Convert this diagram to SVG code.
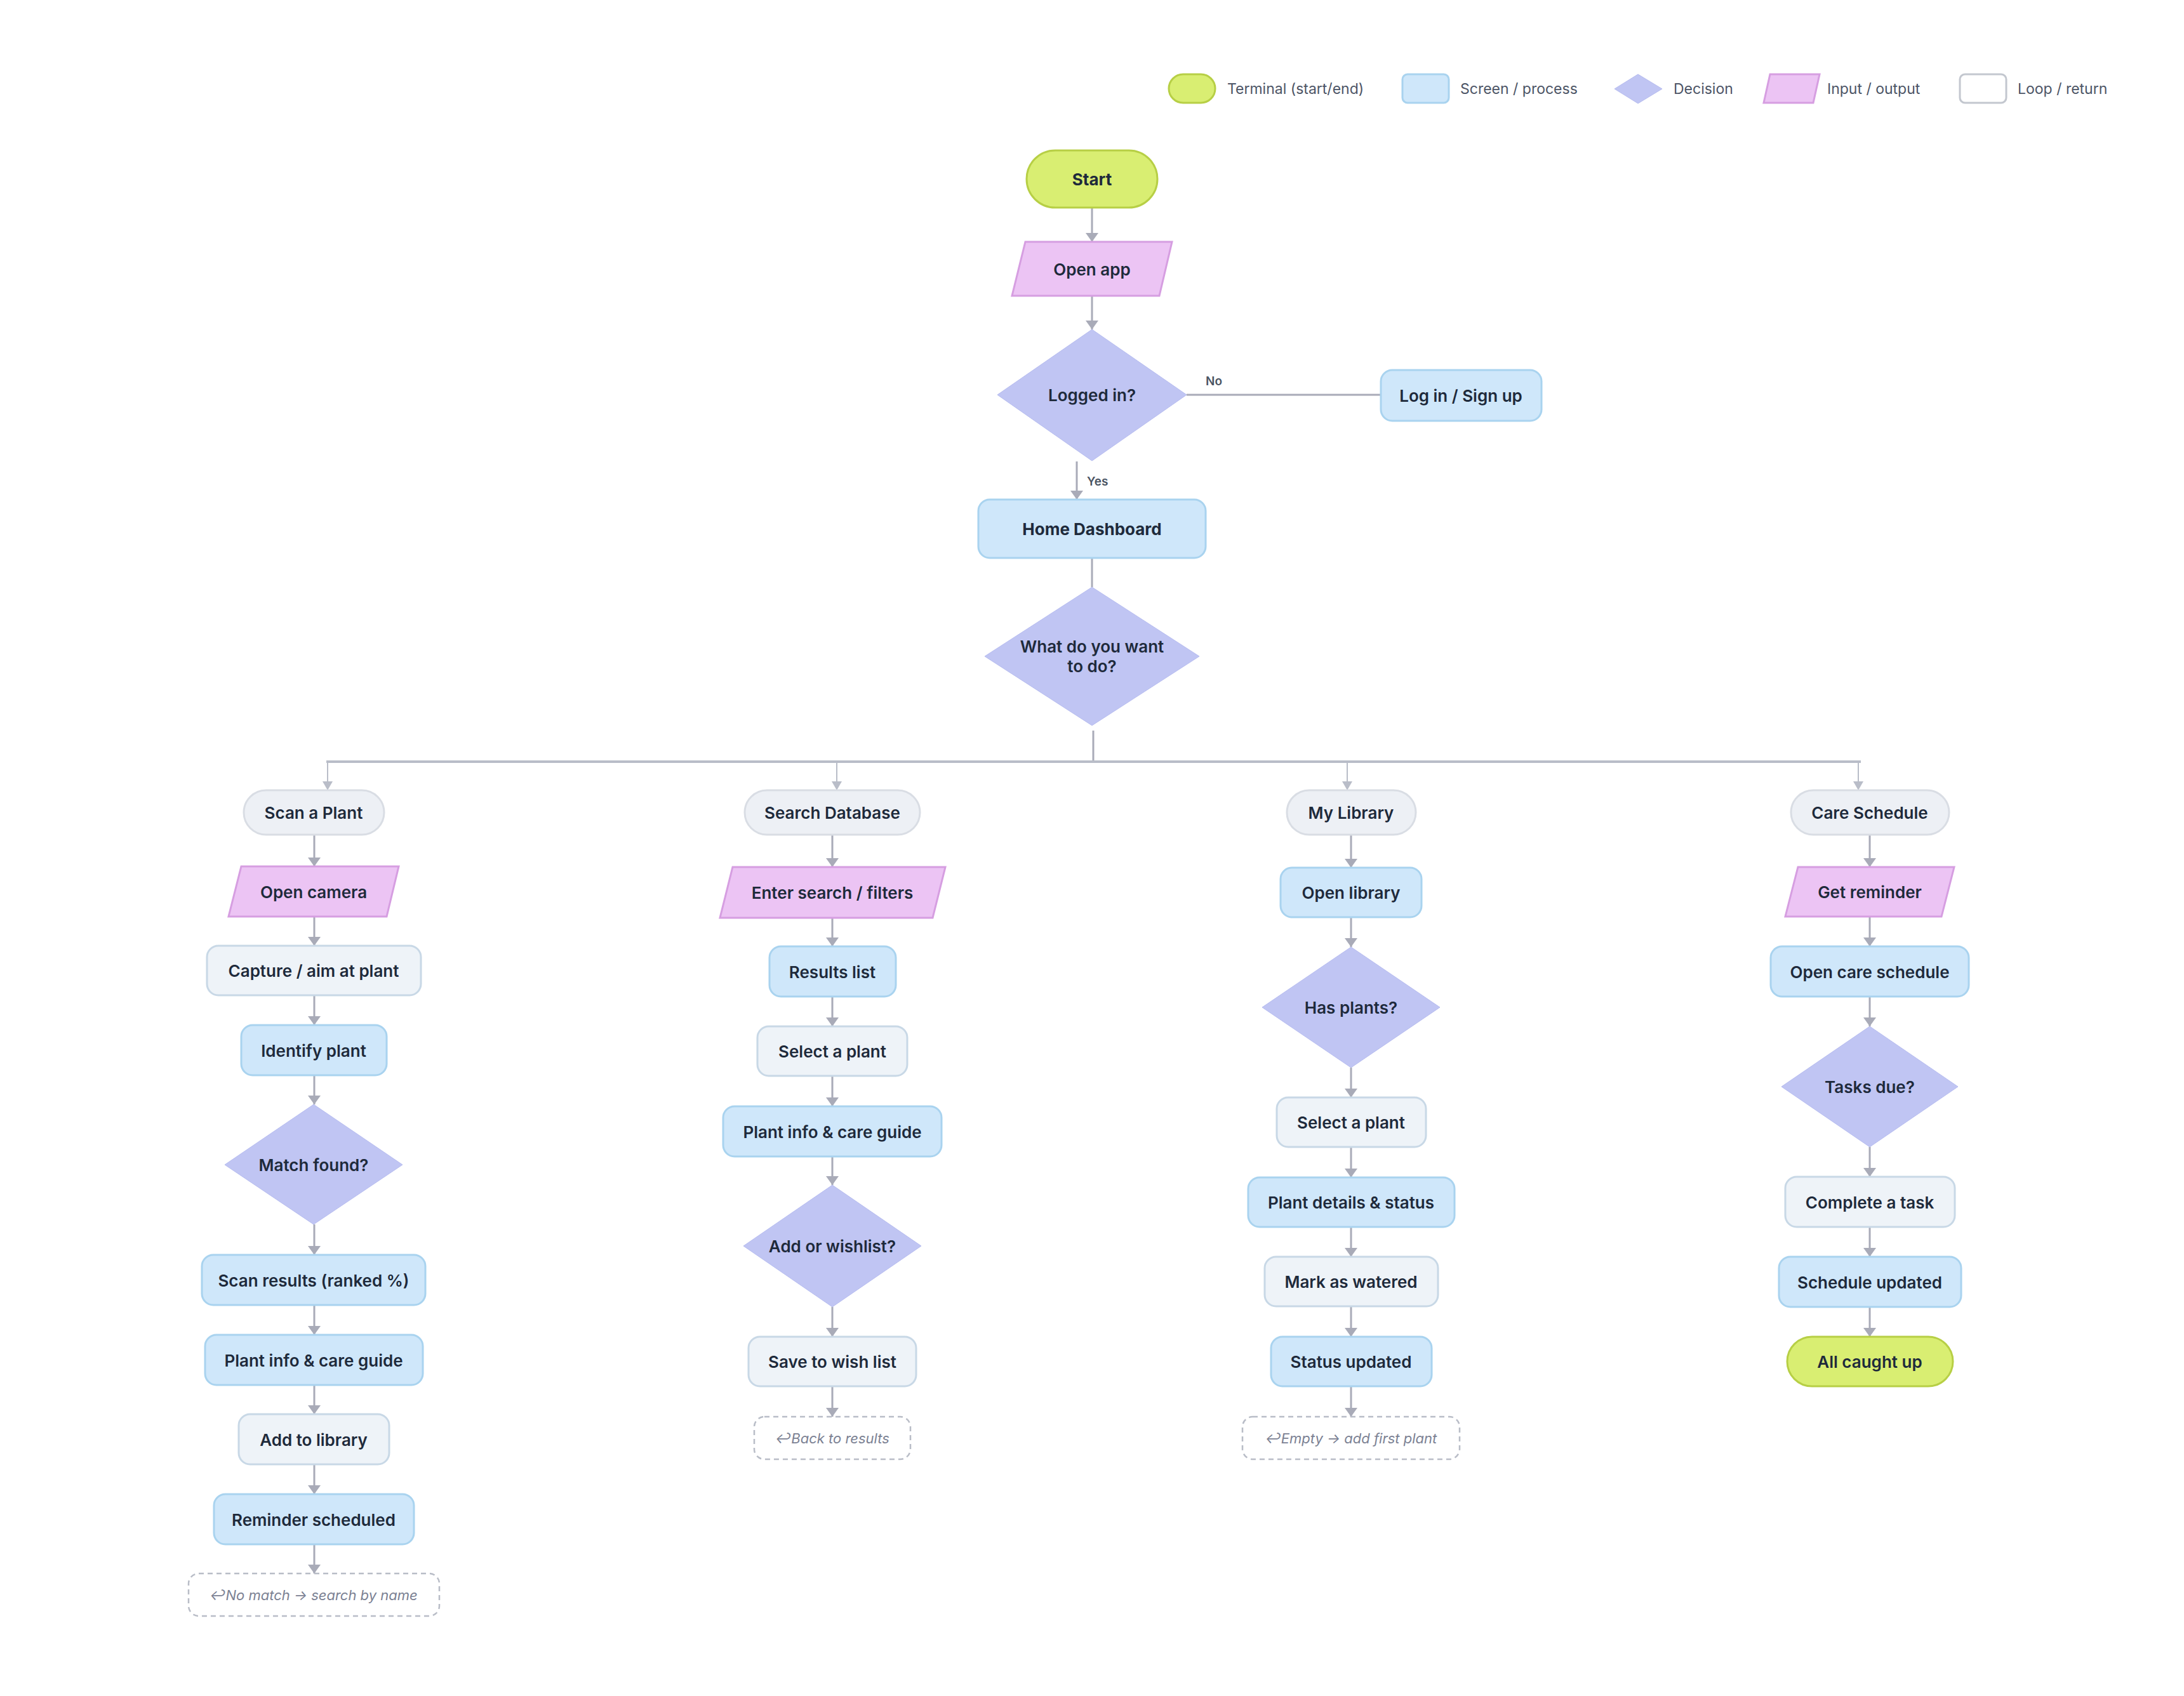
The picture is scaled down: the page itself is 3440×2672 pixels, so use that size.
<svg xmlns="http://www.w3.org/2000/svg" width="3440" height="2672" viewBox="0 0 3440 2672">
<style>
.term{fill:#d9ee72;stroke:#b7cf45;stroke-width:3}
.screen{fill:#cfe7fa;stroke:#a9d3ef;stroke-width:3}
.sec{fill:#eef3f8;stroke:#c8d8e6;stroke-width:3}
.cat{fill:#edf0f5;stroke:#d9dde4;stroke-width:3}
.dec{fill:#c0c5f3;stroke:#b6bcef;stroke-width:1}
.io{fill:#ecc4f4;stroke:#d69ee1;stroke-width:3}
.loop{fill:#ffffff;stroke:#b9bdc7;stroke-width:2.5;stroke-dasharray:8 6}
.lg{fill:#ffffff;stroke:#c3c7cf;stroke-width:3}
.t{font-family:Inter,"Liberation Sans",sans-serif;font-weight:600;fill:#1e2a3b;text-anchor:middle;dominant-baseline:central;font-size:26px}
.tb{font-weight:700}
.note{font-family:Inter,"Liberation Sans",sans-serif;font-style:italic;fill:#7b8193;text-anchor:middle;dominant-baseline:central;font-size:22px}
.lbl{font-family:Inter,"Liberation Sans",sans-serif;font-weight:600;fill:#4b5563;font-size:19px;dominant-baseline:central}
.legt{font-family:Inter,"Liberation Sans",sans-serif;fill:#4d5566;font-size:23px;dominant-baseline:central}
.c{stroke:#a9abb8;stroke-width:3;fill:none}
.ca{stroke:#a9abb8;stroke-width:3;fill:none;marker-end:url(#ah)}
.bus{stroke:#b9bdc8;stroke-width:4;fill:none}
.drop{stroke:#b9bdc8;stroke-width:2;fill:none;marker-end:url(#ah2)}
</style>
<defs>
<marker id="ah" viewBox="0 0 14 20" refX="14" refY="10" markerWidth="14" markerHeight="20" markerUnits="userSpaceOnUse" orient="auto"><path d="M0,0 L14,10 L0,20 z" fill="#a9abb8"/></marker>
<marker id="ah2" viewBox="0 0 14 16" refX="14" refY="8" markerWidth="14" markerHeight="16" markerUnits="userSpaceOnUse" orient="auto"><path d="M0,0 L14,8 L0,16 z" fill="#b9bdc8"/></marker>
</defs>
<rect width="3440" height="2672" fill="#ffffff"/>

<g id="legend">
<rect class="term" x="1841" y="117" width="73" height="45" rx="22.5"/>
<text class="legt" x="1933" y="140">Terminal (start/end)</text>
<rect class="screen" x="2209" y="117" width="73" height="45" rx="8"/>
<text class="legt" x="2300" y="140">Screen / process</text>
<polygon class="dec" points="2580,117 2618,140 2580,163 2543,140"/>
<text class="legt" x="2636" y="140">Decision</text>
<polygon class="io" points="2788,117 2866,117 2856,162 2778,162"/>
<text class="legt" x="2878" y="140">Input / output</text>
<rect class="lg" x="3087" y="117" width="73" height="45" rx="8"/>
<text class="legt" x="3178" y="140">Loop / return</text>
</g>

<g id="connectors">
<line class="ca" x1="1720" y1="327" x2="1720" y2="381"/>
<line class="ca" x1="1720" y1="466" x2="1720" y2="519"/>
<line class="c" x1="1869" y1="622" x2="2175" y2="622"/>
<text class="lbl" x="1899" y="600">No</text>
<line class="ca" x1="1696" y1="727" x2="1696" y2="787"/>
<text class="lbl" x="1712" y="758">Yes</text>
<line class="c" x1="1720" y1="879" x2="1720" y2="925"/>
<line class="c" x1="1722" y1="1151" x2="1722" y2="1200"/>
<line class="bus" x1="514" y1="1200" x2="2931" y2="1200"/>
<line class="drop" x1="516" y1="1200" x2="516" y2="1245"/>
<line class="drop" x1="1318" y1="1200" x2="1318" y2="1245"/>
<line class="drop" x1="2122" y1="1200" x2="2122" y2="1245"/>
<line class="drop" x1="2927" y1="1200" x2="2927" y2="1245"/>
<line class="ca" x1="495" y1="1315" x2="495" y2="1365"/>
<line class="ca" x1="495" y1="1444" x2="495" y2="1490"/>
<line class="ca" x1="495" y1="1568" x2="495" y2="1615"/>
<line class="ca" x1="495" y1="1694" x2="495" y2="1740"/>
<line class="ca" x1="495" y1="1929" x2="495" y2="1977"/>
<line class="ca" x1="495" y1="2056" x2="495" y2="2103"/>
<line class="ca" x1="495" y1="2182" x2="495" y2="2228"/>
<line class="ca" x1="495" y1="2308" x2="495" y2="2354"/>
<line class="ca" x1="495" y1="2433" x2="495" y2="2479"/>
<line class="ca" x1="1311" y1="1315" x2="1311" y2="1366"/>
<line class="ca" x1="1311" y1="1446" x2="1311" y2="1491"/>
<line class="ca" x1="1311" y1="1570" x2="1311" y2="1617"/>
<line class="ca" x1="1311" y1="1695" x2="1311" y2="1743"/>
<line class="ca" x1="1311" y1="1822" x2="1311" y2="1867"/>
<line class="ca" x1="1311" y1="2059" x2="1311" y2="2106"/>
<line class="ca" x1="1311" y1="2184" x2="1311" y2="2232"/>
<line class="ca" x1="2128" y1="1315" x2="2128" y2="1367"/>
<line class="ca" x1="2128" y1="1445" x2="2128" y2="1492"/>
<line class="ca" x1="2128" y1="1682" x2="2128" y2="1729"/>
<line class="ca" x1="2128" y1="1807" x2="2128" y2="1855"/>
<line class="ca" x1="2128" y1="1933" x2="2128" y2="1980"/>
<line class="ca" x1="2128" y1="2058" x2="2128" y2="2106"/>
<line class="ca" x1="2128" y1="2184" x2="2128" y2="2232"/>
<line class="ca" x1="2945" y1="1315" x2="2945" y2="1366"/>
<line class="ca" x1="2945" y1="1444" x2="2945" y2="1491"/>
<line class="ca" x1="2945" y1="1570" x2="2945" y2="1617"/>
<line class="ca" x1="2945" y1="1807" x2="2945" y2="1854"/>
<line class="ca" x1="2945" y1="1933" x2="2945" y2="1980"/>
<line class="ca" x1="2945" y1="2059" x2="2945" y2="2106"/>
</g>

<g id="start"><rect class="term" x="1617" y="237" width="206" height="90" rx="45"/><text class="t tb" x="1720" y="282" font-size="30">Start</text></g>
<g id="open-app"><polygon class="io" points="1615,381 1846,381 1826,466 1594,466"/><text class="t" x="1720" y="424" font-size="27">Open app</text></g>
<g id="logged-in"><polygon class="dec" points="1720,519 1869,622 1720,726 1571,622"/><text class="t" x="1720" y="622" font-size="24">Logged in?</text></g>
<g id="login"><rect class="screen" x="2175" y="583" width="253" height="80" rx="18"/><text class="t" x="2301" y="623" font-size="27">Log in / Sign up</text></g>
<g id="home"><rect class="screen" x="1541" y="787" width="358" height="92" rx="18"/><text class="t tb" x="1720" y="833" font-size="33">Home Dashboard</text></g>
<g id="what-do"><polygon class="dec" points="1720,925 1889,1034 1720,1143 1551,1034"/><text class="t" x="1720" y="1018" font-size="25">What do you want</text><text class="t" x="1720" y="1049" font-size="25">to do?</text></g>

<g id="cat-scan"><rect class="cat" x="384" y="1245" width="221" height="70" rx="35"/><text class="t" x="494" y="1280">Scan a Plant</text></g>
<g id="open-camera"><polygon class="io" points="380,1365 628,1365 609,1444 360,1444"/><text class="t" x="494" y="1405">Open camera</text></g>
<g id="capture"><rect class="sec" x="326" y="1490" width="337" height="78" rx="18"/><text class="t" x="494" y="1529">Capture / aim at plant</text></g>
<g id="identify"><rect class="screen" x="380" y="1615" width="229" height="79" rx="18"/><text class="t" x="494" y="1655">Identify plant</text></g>
<g id="match-found"><polygon class="dec" points="494,1740 634,1835 494,1929 354,1835"/><text class="t" x="494" y="1835" font-size="22">Match found?</text></g>
<g id="scan-results"><rect class="screen" x="318" y="1977" width="352" height="79" rx="18"/><text class="t" x="494" y="2017">Scan results (ranked %)</text></g>
<g id="plant-info-1"><rect class="screen" x="323" y="2103" width="343" height="79" rx="18"/><text class="t" x="494" y="2143">Plant info &amp; care guide</text></g>
<g id="add-library"><rect class="sec" x="376" y="2228" width="237" height="79" rx="18"/><text class="t" x="494" y="2268">Add to library</text></g>
<g id="reminder"><rect class="screen" x="337" y="2354" width="315" height="79" rx="18"/><text class="t" x="494" y="2394">Reminder scheduled</text></g>
<g id="note-scan"><rect class="loop" x="297" y="2479" width="395" height="67" rx="16"/><text class="note" x="494" y="2513">↩No match → search by name</text></g>

<g id="cat-search"><rect class="cat" x="1173" y="1245" width="276" height="70" rx="35"/><text class="t" x="1311" y="1280">Search Database</text></g>
<g id="enter-search"><polygon class="io" points="1154,1366 1489,1366 1469,1446 1134,1446"/><text class="t" x="1311" y="1406">Enter search / filters</text></g>
<g id="results-list"><rect class="screen" x="1212" y="1491" width="199" height="79" rx="18"/><text class="t" x="1311" y="1531">Results list</text></g>
<g id="select-plant-1"><rect class="sec" x="1193" y="1617" width="236" height="78" rx="18"/><text class="t" x="1311" y="1656">Select a plant</text></g>
<g id="plant-info-2"><rect class="screen" x="1139" y="1743" width="344" height="79" rx="18"/><text class="t" x="1311" y="1783">Plant info &amp; care guide</text></g>
<g id="add-wish"><polygon class="dec" points="1311,1867 1451,1963 1311,2059 1171,1963"/><text class="t" x="1311" y="1963" font-size="22">Add or wishlist?</text></g>
<g id="save-wish"><rect class="sec" x="1179" y="2106" width="264" height="78" rx="18"/><text class="t" x="1311" y="2145">Save to wish list</text></g>
<g id="note-search"><rect class="loop" x="1188" y="2232" width="246" height="67" rx="16"/><text class="note" x="1311" y="2266">↩Back to results</text></g>

<g id="cat-library"><rect class="cat" x="2027" y="1245" width="203" height="70" rx="35"/><text class="t" x="2128" y="1280">My Library</text></g>
<g id="open-library"><rect class="screen" x="2017" y="1367" width="222" height="78" rx="18"/><text class="t" x="2128" y="1406">Open library</text></g>
<g id="has-plants"><polygon class="dec" points="2128,1492 2268,1587 2128,1682 1988,1587"/><text class="t" x="2128" y="1587" font-size="22">Has plants?</text></g>
<g id="select-plant-2"><rect class="sec" x="2011" y="1729" width="235" height="78" rx="18"/><text class="t" x="2128" y="1768">Select a plant</text></g>
<g id="plant-details"><rect class="screen" x="1966" y="1855" width="325" height="78" rx="18"/><text class="t" x="2128" y="1894">Plant details &amp; status</text></g>
<g id="mark-watered"><rect class="sec" x="1992" y="1980" width="273" height="78" rx="18"/><text class="t" x="2128" y="2019">Mark as watered</text></g>
<g id="status-updated"><rect class="screen" x="2002" y="2106" width="253" height="78" rx="18"/><text class="t" x="2128" y="2145">Status updated</text></g>
<g id="note-library"><rect class="loop" x="1957" y="2232" width="342" height="67" rx="16"/><text class="note" x="2128" y="2266">↩Empty → add first plant</text></g>

<g id="cat-care"><rect class="cat" x="2821" y="1245" width="249" height="70" rx="35"/><text class="t" x="2945" y="1280">Care Schedule</text></g>
<g id="get-reminder"><polygon class="io" points="2832,1366 3078,1366 3058,1444 2812,1444"/><text class="t" x="2945" y="1405">Get reminder</text></g>
<g id="open-care"><rect class="screen" x="2789" y="1491" width="312" height="79" rx="18"/><text class="t" x="2945" y="1531">Open care schedule</text></g>
<g id="tasks-due"><polygon class="dec" points="2945,1617 3084,1712 2945,1807 2806,1712"/><text class="t" x="2945" y="1712" font-size="22">Tasks due?</text></g>
<g id="complete-task"><rect class="sec" x="2812" y="1854" width="267" height="79" rx="18"/><text class="t" x="2945" y="1894">Complete a task</text></g>
<g id="schedule-updated"><rect class="screen" x="2802" y="1980" width="287" height="79" rx="18"/><text class="t" x="2945" y="2020">Schedule updated</text></g>
<g id="all-caught-up"><rect class="term" x="2815" y="2106" width="261" height="78" rx="39"/><text class="t" x="2945" y="2145">All caught up</text></g>
</svg>
